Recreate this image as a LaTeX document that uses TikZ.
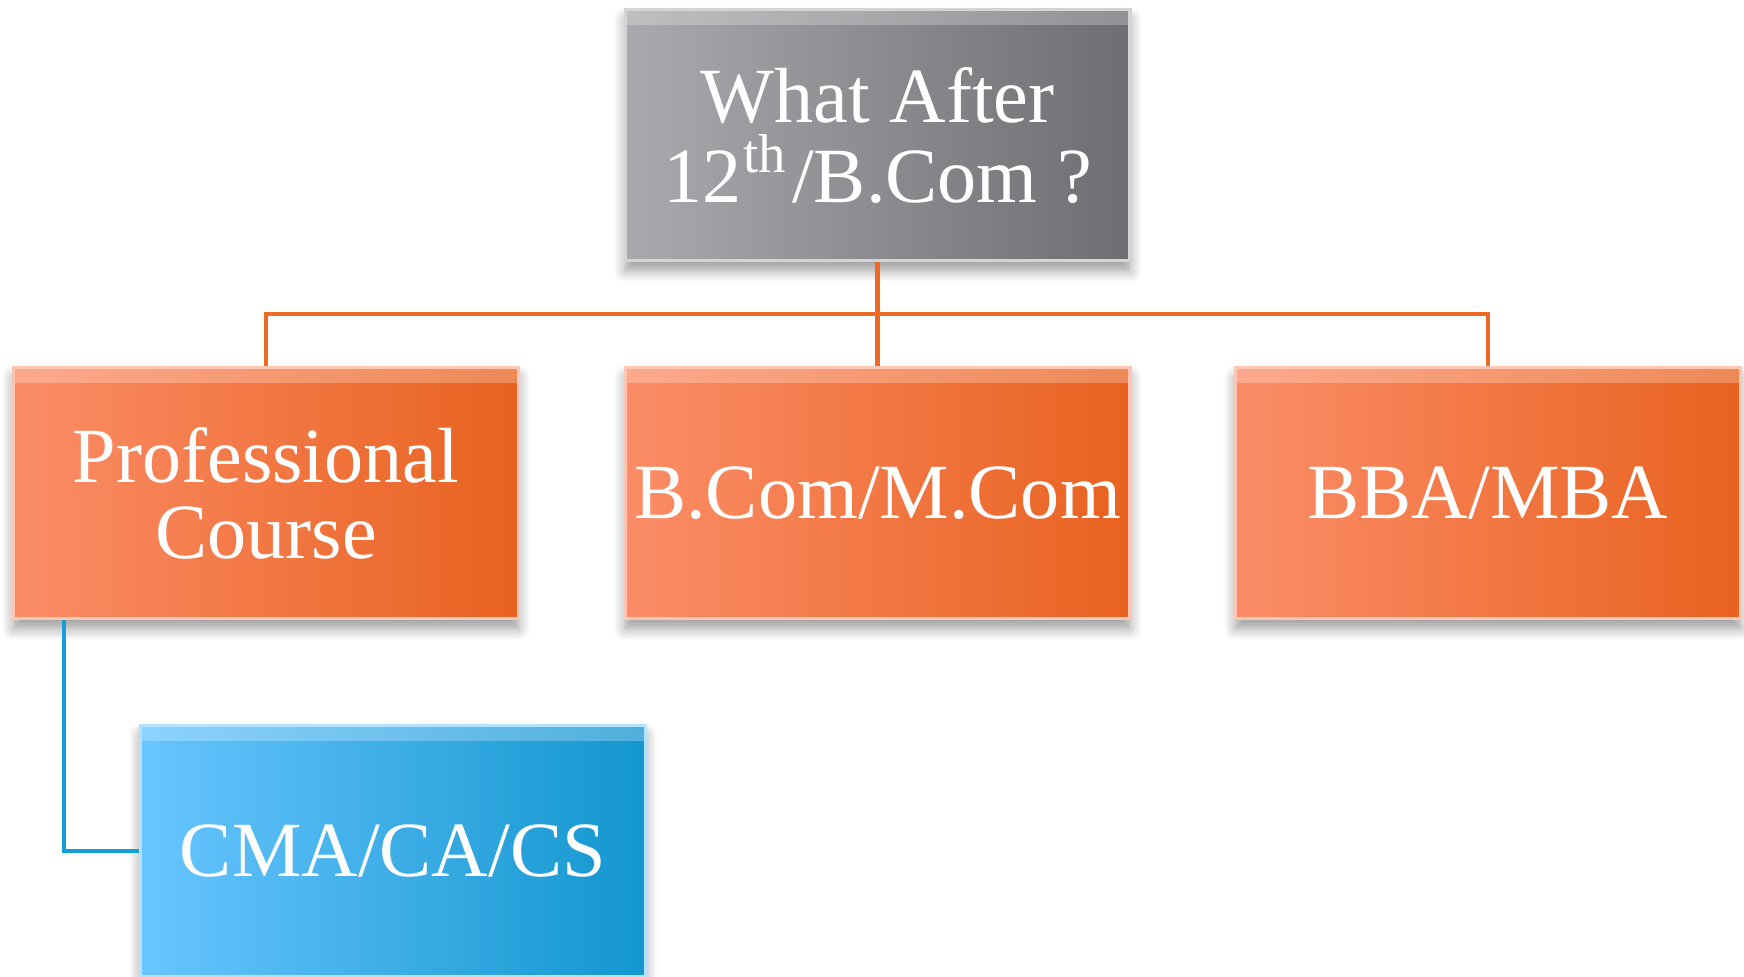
\documentclass[tikz,border=0pt]{standalone}
\usepackage{fontspec}
\setmainfont{Liberation Serif}
\usetikzlibrary{positioning,shadows.blur,calc}
\definecolor{greyL}{HTML}{A9AAAD}
\definecolor{greyR}{HTML}{6D6E72}
\definecolor{orangeL}{HTML}{FC8D68}
\definecolor{orangeR}{HTML}{E8621F}
\definecolor{blueL}{HTML}{68C5FF}
\definecolor{blueR}{HTML}{1396CE}
\definecolor{orangeLine}{HTML}{EE6A24}
\definecolor{blueLine}{HTML}{159FD8}
\begin{document}
\begin{tikzpicture}[
    box/.style={rectangle, minimum width=4.54cm, minimum height=2.26cm, inner sep=2pt,
        align=center, text=white, font=\fontsize{20}{19.5}\selectfont, line width=0.8pt,
        blur shadow={shadow xshift=0pt, shadow yshift=-2.5pt, shadow blur steps=6, shadow blur radius=3pt},
        path picture={\fill[white, opacity=0.25] (path picture bounding box.north west)
            rectangle ([yshift=-4pt]path picture bounding box.north east);}},
    greybox/.style={box, left color=greyL, right color=greyR, draw=greyL!50!white},
    orangebox/.style={box, left color=orangeL, right color=orangeR, draw=orangeL!50!white},
    bluebox/.style={box, left color=blueL, right color=blueR, draw=blueL!50!white},
    orangeline/.style={draw=orangeLine, line width=1.1pt},
    blueline/.style={draw=blueLine, line width=1.1pt}
]
    \useasboundingbox (0,0) rectangle (15.68,-8.78);

    \node[greybox] (what) at (7.89,-1.215) {What After\\[1pt]12\kern0.6pt\textsuperscript{th}\kern1pt/B.Com ?};
    \node[orangebox, below=0.93cm of what] (bcom) {B.Com/M.Com};
    \node[orangebox, left=0.93cm of bcom] (prof) {Professional\\Course};
    \node[orangebox, right=0.92cm of bcom] (bba) {BBA/MBA};
    \node[bluebox, below=0.93cm of prof, xshift=1.14cm] (cma) {CMA/CA/CS};

    \coordinate (split) at ($(what.south)!0.5!(bcom.north)$);
    \draw[orangeline] (what.south) -- (bcom.north);
    \draw[orangeline] (split) -| (prof.north);
    \draw[orangeline] (split) -| (bba.north);
    \draw[blueline] ([xshift=0.47cm]prof.south west) |- (cma.west);
\end{tikzpicture}
\end{document}
